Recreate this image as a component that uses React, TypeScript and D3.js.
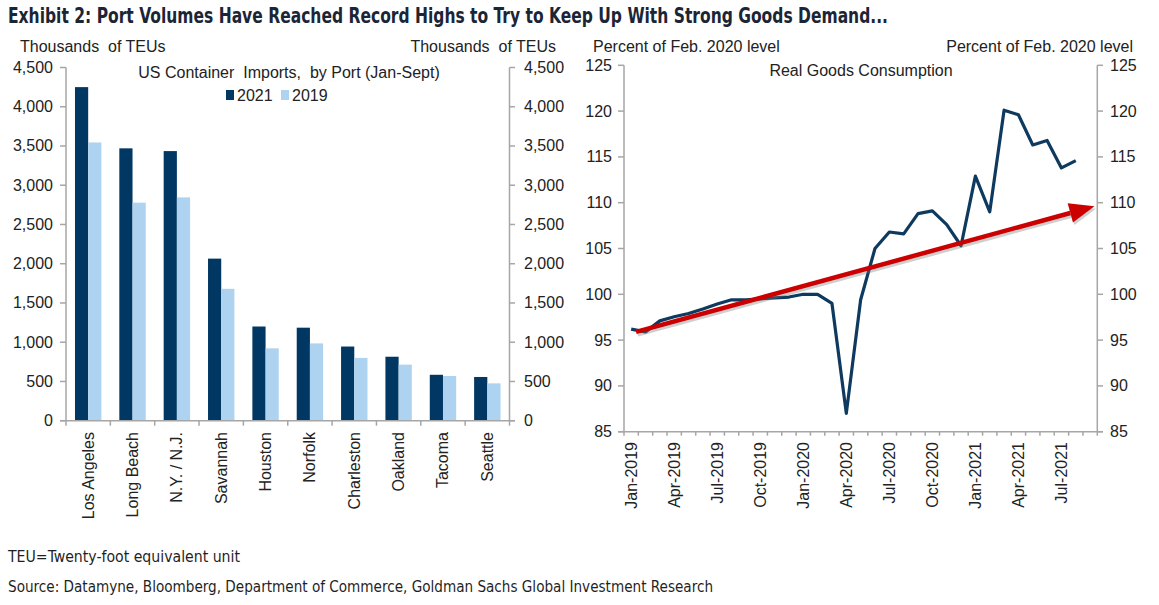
import * as d3 from 'd3';

// US container imports by port, Jan-Sept, thousands of TEUs
const ports = ['Los Angeles', 'Long Beach', 'N.Y. / N.J.', 'Savannah', 'Houston', 'Norfolk', 'Charleston', 'Oakland', 'Tacoma', 'Seattle'];
const imports2021 = [4250, 3470, 3435, 2065, 1200, 1185, 945, 815, 585, 557];
const imports2019 = [3545, 2778, 2845, 1680, 922, 985, 800, 714, 570, 476];
const barSeries = ['2021', '2019'];
const barTicks = [0, 500, 1000, 1500, 2000, 2500, 3000, 3500, 4000, 4500];

// Real goods consumption, percent of Feb. 2020 level (Jan-2019 .. Aug-2021)
const months = d3.timeMonth.range(new Date(2019, 0, 1), new Date(2021, 9, 1));
const goods = [
  96.2, 95.9, 97.1, 97.55, 97.9, 98.4, 98.95, 99.4, 99.4, 99.5, 99.6, 99.7,
  100.0, 100.0, 99.0, 87.0, 99.4, 105.0, 106.8, 106.6, 108.8, 109.1, 107.6, 105.3,
  112.9, 109.0, 120.1, 119.6, 116.3, 116.8, 113.8, 114.6,
];
const monthLabels = ['Jan-2019', 'Apr-2019', 'Jul-2019', 'Oct-2019', 'Jan-2020', 'Apr-2020', 'Jul-2020', 'Oct-2020', 'Jan-2021', 'Apr-2021', 'Jul-2021'];
const lineTicks = [85, 90, 95, 100, 105, 110, 115, 120, 125];
// trend arrow, in (month index, value)
const arrowFrom = [0.34, 95.9];
const arrowTo = [32.3, 109.6];

const NAVY = '#003763';
const LIGHT = '#aed3f0';
const AXIS = '#a6a6a6';
const TXT = '#222';
const FONT = '"Liberation Sans", Arial, sans-serif';

export default function App() {
  // left panel
  const bx = d3.scaleBand().domain(ports).range([66, 509.5]).padding(0);
  const bsub = d3.scaleBand().domain(barSeries).range([0, bx.bandwidth()]).paddingOuter(0.68).paddingInner(0);
  const by = d3.scaleLinear().domain([0, 4500]).range([420.7, 67.5]);
  const bars = [imports2021, imports2019];

  // right panel
  const lx = d3.scaleLinear().domain([-0.5, months.length - 0.5]).range([624, 1097.3]);
  const ly = d3.scaleLinear().domain([85, 125]).range([431.7, 65.3]);
  const line = d3.line<number>().x((_, i) => lx(i)).y((d) => ly(d));
  const fmt = d3.format(',');

  const ax0 = lx(arrowFrom[0]);
  const ay0 = ly(arrowFrom[1]);
  const ax1 = lx(arrowTo[0]);
  const ay1 = ly(arrowTo[1]);
  const ang = Math.atan2(ay1 - ay0, ax1 - ax0);
  const headLen = 25;
  const headW = 10;
  const bx1 = ax1 - headLen * Math.cos(ang);
  const by1 = ay1 - headLen * Math.sin(ang);
  const head = [
    [ax1, ay1],
    [bx1 + headW * Math.sin(ang), by1 - headW * Math.cos(ang)],
    [bx1 - headW * Math.sin(ang), by1 + headW * Math.cos(ang)],
  ];

  const monthBoundaries = d3.range(months.length + 1).map((i) => lx(i - 0.5));

  return (
    <svg width={1159} height={605} style={{ position: 'absolute', left: 0, top: 0, background: '#fff' }} fontFamily={FONT}>
      <text x={8} y={23} fontSize={21} fontWeight="bold" fill="#1b2536" fontFamily='"DejaVu Sans Condensed", "DejaVu Sans", sans-serif' textLength={880} lengthAdjust="spacingAndGlyphs">
        Exhibit 2: Port Volumes Have Reached Record Highs to Try to Keep Up With Strong Goods Demand...
      </text>

      {/* ---------- left panel ---------- */}
      <g fontSize={16} fill={TXT}>
        <text x={20} y={52} xmlSpace="preserve">Thousands  of TEUs</text>
        <text x={556} y={52} textAnchor="end" xmlSpace="preserve">Thousands  of TEUs</text>
        <text x={289} y={78} textAnchor="middle" xmlSpace="preserve">US Container  Imports,  by Port (Jan-Sept)</text>
      </g>
      {/* legend */}
      <g fontSize={16} fill={TXT}>
        <rect x={226} y={90} width={8} height={10} fill={NAVY} />
        <text x={237} y={101}>2021</text>
        <rect x={281} y={90} width={8} height={10} fill={LIGHT} />
        <text x={292} y={101}>2019</text>
      </g>
      {bars.map((series, s) =>
        series.map((v, i) => (
          <rect
            key={`${s}-${i}`}
            x={bx(ports[i])! + bsub(barSeries[s])!}
            y={by(v)}
            width={bsub.bandwidth()}
            height={by(0) - by(v)}
            fill={s === 0 ? NAVY : LIGHT}
          />
        )),
      )}
      <g stroke={AXIS} strokeWidth={1.5} fill="none">
        <line x1={66} x2={66} y1={by(4500)} y2={by(0)} />
        <line x1={509.5} x2={509.5} y1={by(4500)} y2={by(0)} />
        <line x1={60} x2={515} y1={by(0)} y2={by(0)} />
        {barTicks.map((t) => (
          <g key={t}>
            <line x1={60} x2={66} y1={by(t)} y2={by(t)} />
            <line x1={509.5} x2={515} y1={by(t)} y2={by(t)} />
          </g>
        ))}
        {[...ports.map((p) => bx(p)!), 509.5].map((x, i) => (
          <line key={i} x1={x} x2={x} y1={by(0)} y2={by(0) + 5} />
        ))}
      </g>
      <g fontSize={16} fill={TXT}>
        {barTicks.map((t) => (
          <g key={t}>
            <text x={53} y={by(t)} textAnchor="end" dominantBaseline="central">{fmt(t)}</text>
            <text x={524} y={by(t)} textAnchor="start" dominantBaseline="central">{fmt(t)}</text>
          </g>
        ))}
        {ports.map((p) => {
          const cx = bx(p)! + bx.bandwidth() / 2;
          return (
            <text key={p} transform={`translate(${cx},432) rotate(-90)`} textAnchor="end" dominantBaseline="central">
              {p}
            </text>
          );
        })}
      </g>

      {/* ---------- right panel ---------- */}
      <g fontSize={16} fill={TXT}>
        <text x={593} y={52}>Percent of Feb. 2020 level</text>
        <text x={1133} y={52} textAnchor="end">Percent of Feb. 2020 level</text>
        <text x={861} y={76} textAnchor="middle">Real Goods Consumption</text>
      </g>
      <g stroke={AXIS} strokeWidth={1.5} fill="none">
        <line x1={624} x2={624} y1={ly(125)} y2={ly(85)} />
        <line x1={1097.3} x2={1097.3} y1={ly(125)} y2={ly(85)} />
        <line x1={618} x2={1103} y1={ly(85)} y2={ly(85)} />
        {lineTicks.map((t) => (
          <g key={t}>
            <line x1={618} x2={624} y1={ly(t)} y2={ly(t)} />
            <line x1={1097.3} x2={1103} y1={ly(t)} y2={ly(t)} />
          </g>
        ))}
        {monthBoundaries.map((x, i) => (
          <line key={i} x1={x} x2={x} y1={ly(85)} y2={ly(85) + 4} />
        ))}
      </g>
      <g fontSize={16} fill={TXT}>
        {lineTicks.map((t) => (
          <g key={t}>
            <text x={612} y={ly(t)} textAnchor="end" dominantBaseline="central">{t}</text>
            <text x={1110} y={ly(t)} textAnchor="start" dominantBaseline="central">{t}</text>
          </g>
        ))}
        {monthLabels.map((m, k) => {
          const cx = lx(k * 3);
          return (
            <text key={m} transform={`translate(${cx},442) rotate(-90)`} textAnchor="end" dominantBaseline="central">
              {m}
            </text>
          );
        })}
      </g>
      <path d={line(goods)!} fill="none" stroke="#0d3a5e" strokeWidth={3.2} strokeLinejoin="round" />
      {/* trend arrow with soft shadow */}
      <g opacity={0.35} transform="translate(1.5,2.5)">
        <line x1={ax0} y1={ay0} x2={bx1} y2={by1} stroke="#777" strokeWidth={4.5} />
        <polygon points={head.map((p) => p.join(',')).join(' ')} fill="#777" />
      </g>
      <line x1={ax0} y1={ay0} x2={bx1} y2={by1} stroke="#cc0000" strokeWidth={4.5} />
      <polygon points={head.map((p) => p.join(',')).join(' ')} fill="#cc0000" />

      {/* footer */}
      <g fontFamily='"DejaVu Sans Condensed", "DejaVu Sans", sans-serif' fontSize={16} fill="#1f1f1f">
        <text x={8} y={562} textLength={232} lengthAdjust="spacingAndGlyphs">TEU=Twenty-foot equivalent unit</text>
        <text x={8} y={592} textLength={705} lengthAdjust="spacingAndGlyphs">Source: Datamyne, Bloomberg, Department of Commerce, Goldman Sachs Global Investment Research</text>
      </g>
    </svg>
  );
}
